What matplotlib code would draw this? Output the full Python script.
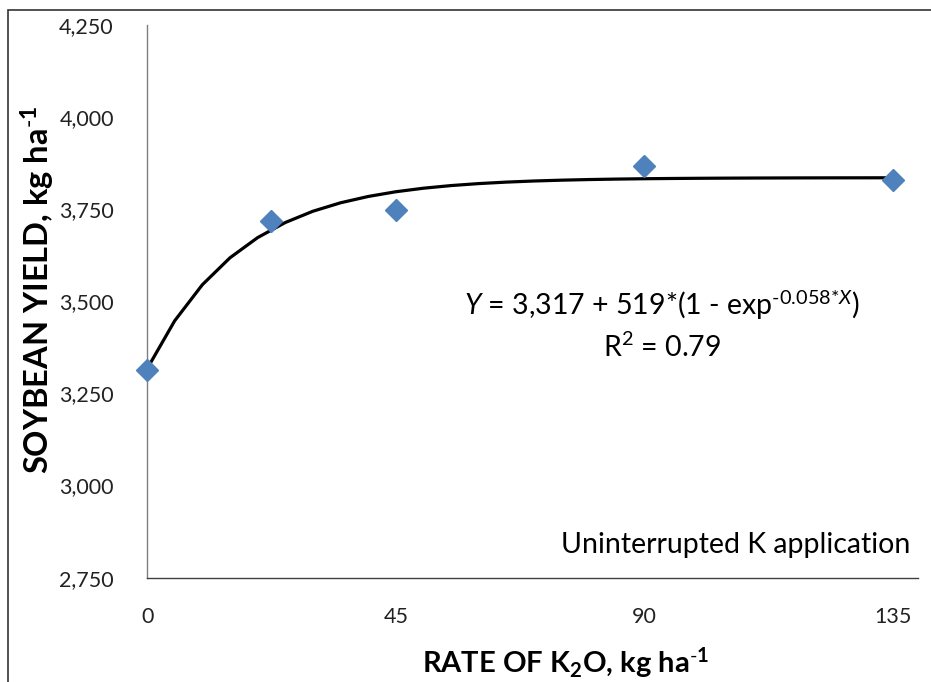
import numpy as np
import matplotlib
matplotlib.use("Agg")
import matplotlib.pyplot as plt
from matplotlib.patches import Rectangle

plt.rcParams["font.family"] = ["Lato", "DejaVu Sans"]
plt.rcParams["mathtext.fontset"] = "custom"
plt.rcParams["mathtext.rm"] = "Lato"
plt.rcParams["mathtext.it"] = "Lato:italic"
plt.rcParams["mathtext.bf"] = "Lato:bold"
plt.rcParams["mathtext.default"] = "regular"

# Observed yields
rate = [0, 22.5, 45, 90, 135]
soy_yield = [3313, 3719, 3749, 3867, 3831]

# Fitted exponential rise-to-plateau model
b0, b1, k = 3317, 519, 0.058
x_fit = np.arange(0, 136, 5)
y_fit = b0 + b1 * (1 - np.exp(-k * x_fit))

xticks = [0, 45, 90, 135]
yticks = [2750, 3000, 3250, 3500, 3750, 4000, 4250]

fig = plt.figure(figsize=(9.31, 6.82), dpi=100)
ax = fig.add_axes([0.158, 0.153, 0.828, 0.81])

ax.plot(x_fit, y_fit, color="black", lw=2.3, zorder=2)
ax.plot(rate, soy_yield, linestyle="none", marker="D", markersize=11,
        color="#4F81BD", markeredgecolor="#4F81BD", zorder=3, clip_on=False)

ax.set_xlim(0, 139.5)
ax.set_ylim(2750, 4250)
ax.set_xticks(xticks)
ax.set_yticks(yticks)
ax.set_yticklabels([f"{v:,}" for v in yticks])
ax.tick_params(axis="both", length=0, labelsize=15.5, colors="#222222")
ax.tick_params(axis="y", pad=24)
ax.tick_params(axis="x", pad=21)

for side in ("top", "right"):
    ax.spines[side].set_visible(False)
ax.spines["left"].set_color("#7f7f7f")
ax.spines["bottom"].set_color("#404040")
ax.spines["left"].set_linewidth(1.0)
ax.spines["bottom"].set_linewidth(1.0)

fig.text(0.607, 0.028, r"RATE OF K$_2$O, kg ha$^{\text{-}1}$", ha="center", va="center",
         fontsize=21, fontweight="bold")
fig.text(0.041, 0.575, r"SOYBEAN YIELD, kg ha$^{\text{-}1}$", ha="center", va="center",
         rotation=90, fontsize=23.5, fontweight="bold")

ax.text(0.711, 0.538, r"$\mathit{Y}$ = 3,317 + 519*(1 - exp$^{\text{-0.058*}\mathit{X}}$)",
        transform=fig.transFigure, ha="center", va="baseline", fontsize=20.5)
ax.text(0.711, 0.477, r"R$^{2}$ = 0.79", transform=fig.transFigure,
        ha="center", va="baseline", fontsize=20.5)
ax.text(0.978, 0.201, "Uninterrupted K application", transform=fig.transFigure,
        ha="right", va="center", fontsize=20.5)

fig.patches.append(Rectangle((8 / 931, -0.1), 1.2, 1.1 - 10 / 682, transform=fig.transFigure,
                             fill=False, edgecolor="#333333", lw=1.2))

fig.savefig("out.png", dpi=100)
